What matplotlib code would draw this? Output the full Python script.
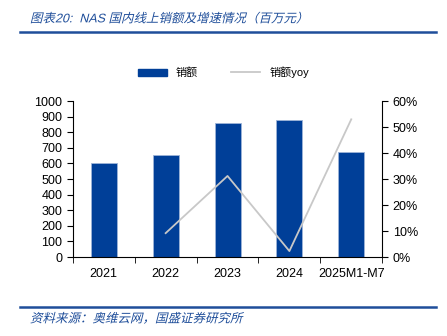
import matplotlib.pyplot as plt
from matplotlib.lines import Line2D
from matplotlib.ticker import FuncFormatter, MultipleLocator
from matplotlib.patheffects import AbstractPathEffect
from matplotlib.transforms import Affine2D

plt.rcParams['font.family'] = ['Liberation Sans', 'Noto Sans CJK SC', 'DejaVu Sans']

years = ['2021', '2022', '2023', '2024', '2025M1-M7']
sales = [600, 655, 858, 877, 672]
yoy_years = ['2022', '2023', '2024', '2025M1-M7']
yoy = [9.2, 31.2, 2.3, 53.0]

bar_color = '#003f98'
line_color = '#c8c8c8'
title_color = '#1f4e9a'


class Slant(AbstractPathEffect):
    # fake italic for the CJK glyphs, which have no italic face
    def draw_path(self, renderer, gc, tpath, affine, rgbFace=None):
        renderer.draw_path(gc, tpath, Affine2D().skew_deg(14, 0) + affine, rgbFace)


fig = plt.figure(figsize=(4.47, 3.36), dpi=100)
ax = fig.add_axes([0.163, 0.235, 0.692, 0.464])

x = list(range(len(years)))
ax.bar(x, sales, width=0.42, color=bar_color, edgecolor='#9db4d8', linewidth=0.6, zorder=2)
ax.set_ylim(0, 1000)
ax.set_xlim(-0.5, len(years) - 0.5)
ax.yaxis.set_major_locator(MultipleLocator(100))
ax.set_xticks(x)
ax.set_xticklabels(years)
ax.set_xticks([i + 0.5 for i in range(-1, len(years))], minor=True)
ax.tick_params(axis='x', which='major', length=0, pad=8, labelsize=9)
ax.tick_params(axis='x', which='minor', length=4, direction='out')
ax.tick_params(axis='y', labelsize=9, length=4, direction='out')
for s in ['top', 'right']:
    ax.spines[s].set_visible(False)

ax2 = ax.twinx()
yx = [years.index(y) for y in yoy_years]
ax2.plot(yx, yoy, color=line_color, linewidth=1.3, zorder=3)
ax2.set_ylim(0, 60)
ax2.yaxis.set_major_locator(MultipleLocator(10))
ax2.yaxis.set_major_formatter(FuncFormatter(lambda v, p: f'{v:.0f}%'))
ax2.tick_params(axis='y', labelsize=9, length=4, direction='out')
for s in ['top', 'left', 'bottom']:
    ax2.spines[s].set_visible(False)

handles = [plt.Rectangle((0, 0), 1, 1, color=bar_color),
           Line2D([0], [0], color=line_color, linewidth=1.3)]
fig.legend(handles, ['销额', '销额yoy'], loc='center', bbox_to_anchor=(0.5, 0.785),
           ncol=2, frameon=False, fontsize=8, handlelength=2.6, handleheight=0.6,
           columnspacing=3)

fig.text(0.067, 0.943, '图表20:  NAS 国内线上销额及增速情况（百万元）', fontsize=9,
         color=title_color, va='center', path_effects=[Slant()])
fig.add_artist(Line2D([0.045, 0.975], [0.905, 0.905], color=title_color, linewidth=1.8))
fig.add_artist(Line2D([0.045, 0.975], [0.087, 0.087], color=title_color, linewidth=1.8))
fig.text(0.067, 0.05, '资料来源：奥维云网，国盛证券研究所', fontsize=9,
         color=title_color, va='center', path_effects=[Slant()])

fig.savefig('out.png', dpi=100)
